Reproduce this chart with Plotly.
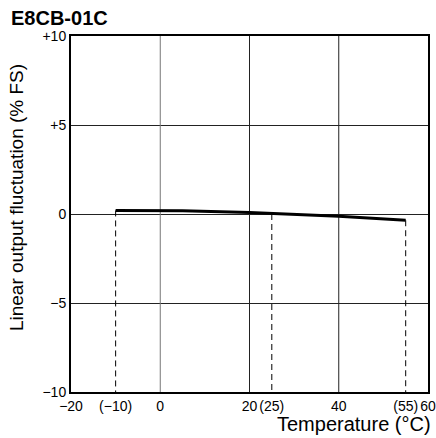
import plotly.graph_objects as go

# Data
temps = [-10, 5, 20, 40, 55]
fluct = [0.2, 0.18, 0.08, -0.12, -0.35]
ref_temps = [-10, 25, 55]
ref_vals = [0.2, 0.0, -0.35]
grid_temps = [0, 20, 40]
x_tickvals = [-20, -10, 0, 20, 25, 40, 55, 60]
x_ticktext = ["\u221220", "(\u221210)", "0", "20", "(25)", "40", "(55)", "60"]
y_tickvals = [-10, -5, 0, 5, 10]
y_ticktext = ["\u221210", "\u22125", "0", "+5", "+10"]

font = "Liberation Sans, Arial, sans-serif"
fig = go.Figure()

# vertical grid lines
for gx in grid_temps:
    fig.add_trace(go.Scatter(x=[gx, gx], y=[-10, 10], mode="lines",
                             line=dict(color="#777" if gx == 0 else "#222", width=1),
                             showlegend=False, hoverinfo="skip"))

# dashed reference drops
for t, v in zip(ref_temps, ref_vals):
    fig.add_trace(go.Scatter(x=[t, t], y=[v, -10], mode="lines",
                             line=dict(color="black", width=1, dash="6px,4px"),
                             showlegend=False, hoverinfo="skip"))

fig.add_trace(go.Scatter(x=temps, y=fluct, mode="lines",
                         line=dict(color="black", width=3),
                         showlegend=False))

fig.update_layout(
    width=436, height=438,
    margin=dict(l=71, r=8, t=36, b=46),
    plot_bgcolor="white", paper_bgcolor="white",
    font=dict(family=font, color="black", size=14),
    xaxis=dict(range=[-20, 60], tickvals=x_tickvals, ticktext=x_ticktext,
               showgrid=False, zeroline=False, showline=True, linecolor="black",
               linewidth=2, mirror=True, ticks="", automargin=False, tickangle=0,
               tickfont=dict(size=14)),
    yaxis=dict(range=[-10, 10], tickvals=y_tickvals, ticktext=y_ticktext,
               showgrid=True, gridcolor="#222", gridwidth=1, zeroline=False,
               showline=True, linecolor="black", linewidth=2, mirror=True,
               ticks="", automargin=False, tickangle=0, tickfont=dict(size=14)),
    showlegend=False,
)

fig.add_annotation(text="<b>E8CB-01C</b>", xref="paper", yref="paper",
                   x=-0.171, y=1.0, xanchor="left", yanchor="bottom", yshift=6,
                   borderpad=0, showarrow=False, font=dict(size=20, family=font))
fig.add_annotation(text="Linear output fluctuation (% FS)", xref="paper", yref="paper",
                   x=-0.151, y=0.545, xanchor="center", yanchor="middle", textangle=-90,
                   borderpad=0, showarrow=False, font=dict(size=19, family=font))
fig.add_annotation(text="Temperature (\u00b0C)", xref="paper", yref="paper",
                   x=1.014, y=-0.0885, xanchor="right", yanchor="middle",
                   showarrow=False, font=dict(size=20, family=font))

fig.write_html("out.html")
